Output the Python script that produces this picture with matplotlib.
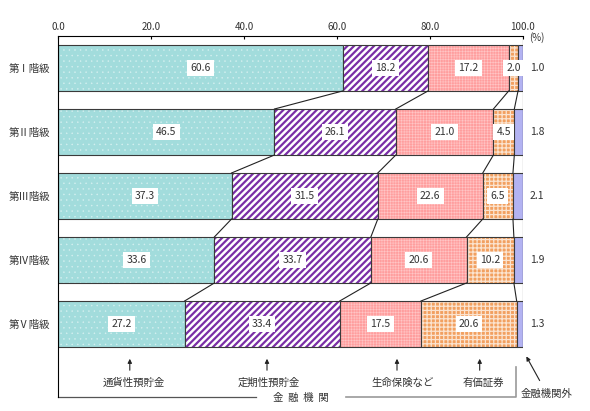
import matplotlib.pyplot as plt
import numpy as np

plt.rcParams['font.family'] = ['Noto Sans CJK JP', 'DejaVu Sans']

rows = ['第Ⅰ階級', '第Ⅱ階級', '第Ⅲ階級', '第Ⅳ階級', '第Ⅴ階級']
tsuka = [60.6, 46.5, 37.3, 33.6, 27.2]    # 通貨性預貯金
teiki = [18.2, 26.1, 31.5, 33.7, 33.4]    # 定期性預貯金
seimei = [17.2, 21.0, 22.6, 20.6, 17.5]   # 生命保険など
yuka = [2.0, 4.5, 6.5, 10.2, 20.6]        # 有価証券
gai = [1.0, 1.8, 2.1, 1.9, 1.3]           # 金融機関外
names = ['通貨性預貯金', '定期性預貯金', '生命保険など', '有価証券']
xticks = [0, 20, 40, 60, 80, 100]

vals = np.array([tsuka, teiki, seimei, yuka, gai]).T
shares = vals / vals.sum(axis=1, keepdims=True) * 100
ends = np.cumsum(shares, axis=1)
lefts = ends - shares


# pixel -> data helpers
def px(x):
    return (x - 58.3) / 4.644


def py(y):
    return (y - 68) / 64


fig = plt.figure(figsize=(5.9, 4.11), dpi=100)
ax = fig.add_axes([58.3 / 590, 1 - 397 / 411, 464.4 / 590, 361 / 411])
ax.set_xlim(0, 100)
ax.set_ylim(py(397), py(36))

y = np.arange(len(rows))
h = 46 / 64

styles = [
    ('#a2dcdc', '...', '#d6f0f0', 0.3),
    ('white', '/////', '#7a2ea6', 1.6),
    ('#ff9e9e', '++++++', '#ffc6c6', 0.4),
    ('#f2a060', '++++', '#fbe3cf', 0.9),
    ('#b3b3f2', '', '#b3b3f2', 1.0),
]
for j, (fc, hatch, hc, hlw) in enumerate(styles):
    with plt.rc_context({'hatch.linewidth': hlw}):
        ax.barh(y, shares[:, j], left=lefts[:, j], height=h, color=fc,
                hatch=hatch, edgecolor=hc, lw=0)
    ax.barh(y, shares[:, j], left=lefts[:, j], height=h, fill=False,
            edgecolor='#3a3a3a', lw=0.8)

# connecting lines between rows
for i in range(len(rows) - 1):
    for j in range(4):
        ax.plot([ends[i, j], ends[i + 1, j]], [i + h / 2, i + 1 - h / 2],
                color='#222222', lw=0.8)

# value labels
for i in range(len(rows)):
    for j in range(4):
        ax.text(lefts[i, j] + shares[i, j] / 2, i, f'{vals[i, j]:.1f}',
                ha='center', va='center', fontsize=7.5, color='#333333',
                bbox=dict(boxstyle='square,pad=0.3', fc='white', ec='none'))
    ax.text(px(537), i, f'{vals[i, 4]:.1f}', ha='center', va='center',
            fontsize=7.5, color='#333333')

ax.spines['right'].set_visible(False)
ax.spines['bottom'].set_visible(False)
ax.spines['top'].set_linewidth(0.8)
ax.spines['left'].set_linewidth(0.8)
ax.plot([100, 100], [py(36), len(rows) - 1 + h / 2], color='#222222', lw=0.8)

ax.xaxis.tick_top()
ax.set_xticks(xticks, [f'{v:.1f}' for v in xticks])
ax.tick_params(axis='x', direction='in', length=2.5, pad=3, labelsize=7,
               labelcolor='#333333')
ax.set_yticks(y, rows)
ax.tick_params(axis='y', length=0, pad=6, labelsize=7.5, labelcolor='#333333')
ax.text(px(537), py(38), '(%)', ha='center', va='center', fontsize=7,
        color='#333333')

# arrows and category names
arrow_x = [129.8, 267, 397, 479.7]
label_x = [133.5, 269, 402.6, 483.5]
for name, axx, lx in zip(names, arrow_x, label_x):
    ax.annotate('', xy=(px(axx), py(356)), xytext=(px(axx), py(373)),
                arrowprops=dict(arrowstyle='-|>', color='#222222', lw=0.8,
                                mutation_scale=6))
    ax.text(px(lx), py(383), name, ha='center', va='center', fontsize=7.5,
            color='#333333')

# bracket for 金融機関
ax.plot([0, px(256)], [py(397), py(397)], color='#555555', lw=0.9,
        clip_on=False)
ax.plot([px(346), px(516), px(516)], [py(397), py(397), py(367)],
        color='#999999', lw=1.2, clip_on=False)
ax.text(px(301), py(398), '金  融  機  関', ha='center', va='center',
        fontsize=7.5, color='#333333')

ax.annotate('', xy=(px(525), py(354)), xytext=(px(541), py(383)),
            arrowprops=dict(arrowstyle='-|>', color='#222222', lw=0.8,
                            mutation_scale=6), annotation_clip=False)
ax.text(px(547), py(394), '金融機関外', ha='center', va='center',
        fontsize=7.5, color='#333333', clip_on=False)

fig.savefig('out.png', dpi=100)
